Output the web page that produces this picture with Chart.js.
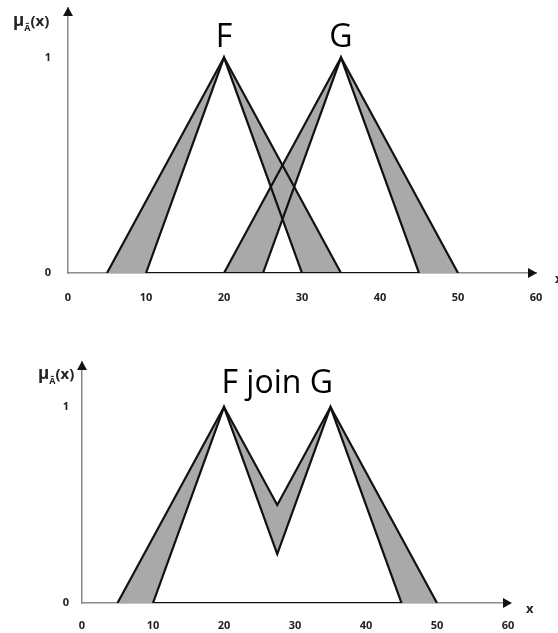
<!DOCTYPE html>
<html><head><meta charset="utf-8">
<script src="https://cdn.jsdelivr.net/npm/chart.js@4/dist/chart.umd.min.js"></script>
<style>
html,body{margin:0;padding:0;background:#fff}
body{width:558px;height:633px;overflow:hidden;position:relative}
canvas{position:absolute;left:0}
</style>
</head><body>
<canvas id="c1" width="558" height="315" style="top:0"></canvas>
<canvas id="c2" width="558" height="318" style="top:315px"></canvas>
<script>
// ---- data ----
const xTicks = [0, 10, 20, 30, 40, 50, 60];
const yTicks = [0, 1];
// upper (outer) and lower (inner) membership functions; lower arrays are padded
// with zero-membership end points so that they span the same support as the upper
const fUpperX = [5, 20, 35],            fUpperY = [0, 1, 0];
const fLowerX = [5, 10, 20, 30, 35],    fLowerY = [0, 0, 1, 0, 0];
const gUpperX = [20, 35, 50],           gUpperY = [0, 1, 0];
const gLowerX = [20, 25, 35, 45, 50],   gLowerY = [0, 0, 1, 0, 0];
const joinUpperX = [5, 20, 27.5, 35, 50],         joinUpperY = [0, 1, 0.5, 1, 0];
const joinLowerX = [5, 10, 20, 27.5, 35, 45, 50], joinLowerY = [0, 0, 1, 0.25, 1, 0, 0];
const topTitles = ['F', 'G'], topTitleX = [20, 35];
const bottomTitles = ['F join G'], bottomTitleX = [27.5];

const pts = (xs, ys) => xs.map((x, i) => ({x, y: ys[i]}));
const FILL = '#a9a9a9', LINE = '#111111';

function upper(xs, ys) {
  return {data: pts(xs, ys), borderColor: LINE, borderWidth: 2.2, backgroundColor: FILL,
    fill: '+1', pointRadius: 0, tension: 0, borderJoinStyle: 'miter'};
}
function lowerFill(xs, ys) {
  return {data: pts(xs, ys), borderColor: 'rgba(0,0,0,0)', borderWidth: 0, fill: false,
    pointRadius: 0, tension: 0};
}
function lowerLine(xs, ys) {
  // inner set drawn as a closed shape (its base lies on the x axis)
  const inner = pts(xs, ys).slice(1, -1);
  return {data: inner.concat([inner[0]]), borderColor: LINE, borderWidth: 2.2, fill: false,
    pointRadius: 0, tension: 0, borderJoinStyle: 'miter'};
}

const deco = {
  id: 'deco',
  afterDraw(chart, args, o) {
    const {ctx, chartArea: a, scales: {x, y}} = chart;
    ctx.save();
    ctx.fillStyle = '#111';
    ctx.beginPath(); ctx.moveTo(a.left, a.top - 1); ctx.lineTo(a.left - 5, a.top + 8); ctx.lineTo(a.left + 5, a.top + 8); ctx.closePath(); ctx.fill();
    ctx.beginPath(); ctx.moveTo(a.right + o.arrowDx, a.bottom); ctx.lineTo(a.right + o.arrowDx - 9, a.bottom - 5); ctx.lineTo(a.right + o.arrowDx - 9, a.bottom + 5); ctx.closePath(); ctx.fill();
    ctx.fillStyle = '#000';
    ctx.font = '32px "Open Sans"'; ctx.textAlign = 'center'; ctx.textBaseline = 'alphabetic';
    o.titles.forEach((t, i) => ctx.fillText(t, x.getPixelForValue(o.titleX[i]), y.getPixelForValue(o.titleY)));
    ctx.fillStyle = '#222';
    ctx.font = 'bold 13px "Open Sans"'; ctx.textAlign = 'left'; ctx.textBaseline = 'middle';
    ctx.fillText('x', a.right + o.xNameDx, a.bottom + 6);
    ctx.textBaseline = 'alphabetic';
    let mx = a.left + o.muDx, my = a.top + o.muDy;
    ctx.font = 'bold 17px "Open Sans"'; ctx.fillText('μ', mx, my); mx += ctx.measureText('μ').width;
    ctx.font = 'bold 9px "Open Sans"'; ctx.fillText('Ã', mx, my + 5); mx += ctx.measureText('Ã').width;
    ctx.font = 'bold 15px "Open Sans"'; ctx.fillText('(x)', mx, my);
    ctx.restore();
  }
};

function makeChart(id, datasets, L) {
  const tickFont = {family: 'Open Sans', weight: 'bold', size: 11};
  return new Chart(document.getElementById(id), {
    type: 'line',
    data: {datasets},
    plugins: [deco],
    options: {
      responsive: false, animation: false, events: [],
      layout: {padding: {top: L.top, right: L.right, left: 0, bottom: 0}},
      plugins: {legend: {display: false}, tooltip: {enabled: false},
        filler: {drawTime: 'beforeDatasetsDraw'}, deco: L.deco},
      scales: {
        x: {type: 'linear', min: 0, max: 60,
          afterBuildTicks: s => { s.ticks = xTicks.map(v => ({value: v})); },
          afterFit: s => { s.height = L.xh; s.paddingLeft = 0; s.paddingRight = 0; },
          grid: {display: true, color: 'rgba(0,0,0,0)', drawTicks: false},
          border: {display: true, color: '#8a8a8a', width: 1.5},
          ticks: {padding: L.xpad, font: tickFont, color: '#222', maxRotation: 0, autoSkip: false}},
        y: {type: 'linear', min: 0, max: 1.23,
          afterBuildTicks: s => { s.ticks = yTicks.map(v => ({value: v})); },
          afterFit: s => { s.width = L.yw; s.paddingTop = 0; s.paddingBottom = 0; },
          grid: {display: true, color: 'rgba(0,0,0,0)', drawTicks: false},
          border: {display: true, color: '#8a8a8a', width: 1.5},
          ticks: {padding: L.ypad, font: tickFont, color: '#222'}}
      }
    }
  });
}

makeChart('c1', [
  upper(fUpperX, fUpperY), lowerFill(fLowerX, fLowerY),
  upper(gUpperX, gUpperY), lowerFill(gLowerX, gLowerY),
  lowerLine(fLowerX, fLowerY), lowerLine(gLowerX, gLowerY)
], {top: 8, right: 22, xh: 42, yw: 68, xpad: 18, ypad: 17,
   deco: {titles: topTitles, titleX: topTitleX, titleY: 1.05, arrowDx: 1, xNameDx: 19, muDx: -55, muDy: 18}});

makeChart('c2', [
  upper(joinUpperX, joinUpperY), lowerFill(joinLowerX, joinLowerY),
  lowerLine(joinLowerX, joinLowerY)
], {top: 47, right: 50, xh: 30, yw: 82, xpad: 16, ypad: 13,
   deco: {titles: bottomTitles, titleX: bottomTitleX, titleY: 1.07, arrowDx: 4, xNameDx: 18, muDx: -44, muDy: 17}});
</script>
</body></html>
